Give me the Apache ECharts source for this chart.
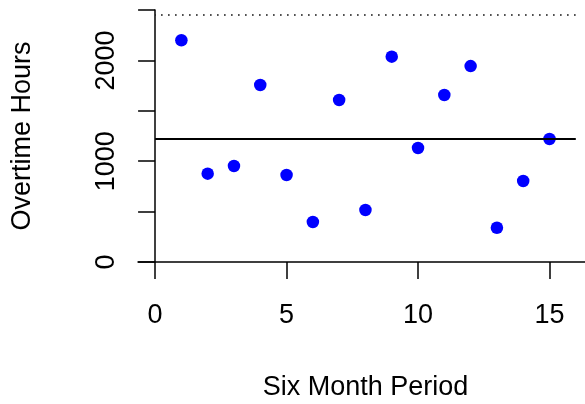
<!DOCTYPE html>
<html>
<head>
<meta charset="utf-8">
<script src="https://cdn.jsdelivr.net/npm/echarts@6/dist/echarts.min.js"></script>
<style>
html,body{margin:0;padding:0;background:#fff;}
#chart{width:585px;height:404px;}
</style>
</head>
<body>
<div id="chart"></div>
<script>
// ---- data ----
const periods = [1,2,3,4,5,6,7,8,9,10,11,12,13,14,15];
const overtimeHours = [2200,876,952,1756,863,397,1607,516,2037,1131,1657,1944,340,804,1220];
const centerLevel = 1220;
const upperLevel = 2450;
const refLineExtent = [0, 16];
const xTickValues = [0,5,10,15];
const yTickValues = [0,500,1000,1500,2000,2500];
const yLabelValues = [0,1000,2000];
const xTitle = 'Six Month Period';
const yTitle = 'Overtime Hours';

const FONT = "'Liberation Sans', Arial, Helvetica, sans-serif";
const FS = 27;
const chart = echarts.init(document.getElementById('chart'), null, {renderer:'canvas'});

const points = periods.map((p,i)=>[p, overtimeHours[i]]);

chart.setOption({
  animation:false,
  backgroundColor:'#ffffff',
  grid:{left:138, right:0, top:10, bottom:142, containLabel:false, outerBoundsMode:'none'},
  xAxis:{
    type:'value', min:-0.65, max:16.35,
    splitLine:{show:false},
    axisLine:{show:true, onZero:true, lineStyle:{color:'#000', width:1.5}},
    axisTick:{show:true, customValues:xTickValues, length:17, lineStyle:{color:'#000', width:1.5}},
    axisLabel:{customValues:xTickValues, fontSize:FS, fontFamily:FONT, color:'#000', margin:40,
      formatter:v=>String(v)}
  },
  yAxis:{
    type:'value', min:0, max:2500,
    splitLine:{show:false},
    axisLine:{show:true, onZero:true, lineStyle:{color:'#000', width:1.5}},
    axisTick:{show:true, customValues:yTickValues, length:17, lineStyle:{color:'#000', width:1.5}},
    axisLabel:{customValues:yLabelValues, rotate:90, fontSize:FS, fontFamily:FONT, color:'#000', margin:18,
      formatter:v=>String(v)}
  },
  series:[
    {
      type:'line', data:[[refLineExtent[0], upperLevel],[refLineExtent[1], upperLevel]],
      symbol:'none', silent:true,
      lineStyle:{color:'#000', width:1.5, type:[1.5,5.5], dashOffset:-6}
    },
    {
      type:'line', data:[[refLineExtent[0], centerLevel],[refLineExtent[1], centerLevel]],
      symbol:'none', silent:true,
      lineStyle:{color:'#000', width:2}
    },
    {
      type:'scatter', data:points, symbol:'circle', symbolSize:12.5,
      itemStyle:{color:'#0000ff', opacity:1}
    }
  ],
  graphic:[
    {type:'text', x:365.5, y:388, style:{text:xTitle, font:FS+'px '+FONT, fill:'#000', align:'center', verticalAlign:'middle'}},
    {type:'text', x:23, y:136, rotation:Math.PI/2, style:{text:yTitle, font:FS+'px '+FONT, fill:'#000', align:'center', verticalAlign:'middle'}}
  ]
});
</script>
</body>
</html>
